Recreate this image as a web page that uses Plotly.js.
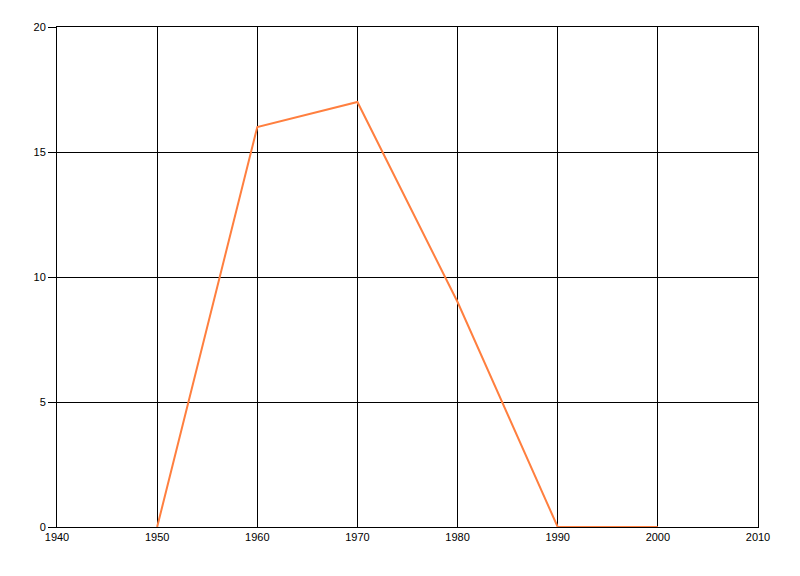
<!DOCTYPE html>
<html>
<head>
<meta charset="utf-8">
<script src="https://cdn.plot.ly/plotly-3.0.1.min.js"></script>
<style>html,body{margin:0;padding:0;background:#fff;}#chart{width:800px;height:576px;}</style>
</head>
<body>
<div id="chart"></div>
<script>
const years = [1950, 1960, 1970, 1980, 1990, 2000];
const values = [0, 16, 17, 9, 0, 0];
const xTicks = [1940, 1950, 1960, 1970, 1980, 1990, 2000, 2010];
const yTicks = [0, 5, 10, 15, 20];

Plotly.newPlot('chart', [{
  x: years, y: values, type: 'scatter', mode: 'lines',
  line: {color: '#FF7F3F', width: 2}, hoverinfo: 'none'
}], {
  width: 800, height: 576,
  margin: {l: 57, r: 42, t: 27, b: 49},
  paper_bgcolor: '#fff', plot_bgcolor: '#fff',
  showlegend: false,
  font: {family: 'Liberation Sans, Arial, sans-serif', size: 11, color: '#000'},
  xaxis: {
    range: [1940, 2010], tickvals: xTicks, ticktext: xTicks.map(String),
    showgrid: true, gridcolor: '#000', gridwidth: 1,
    zeroline: false, showline: true, linecolor: '#000', linewidth: 1,
    ticks: '', ticklen: 0, mirror: true, fixedrange: true
  },
  yaxis: {
    range: [0, 20], tickvals: yTicks, ticktext: yTicks.map(String),
    showgrid: true, gridcolor: '#000', gridwidth: 1,
    zeroline: false, showline: true, linecolor: '#000', linewidth: 1, mirror: true,
    ticks: 'outside', ticklen: 8, tickcolor: '#000', tickwidth: 1, fixedrange: true
  }
}, {displayModeBar: false, staticPlot: true});
</script>
</body>
</html>
